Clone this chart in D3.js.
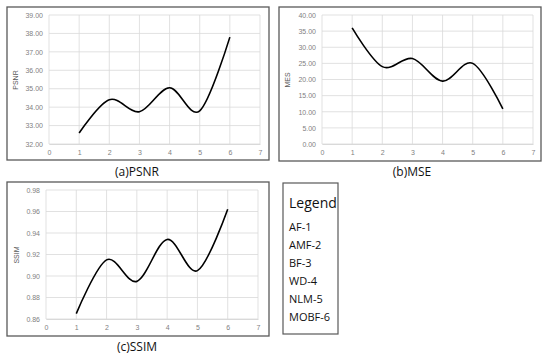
<!DOCTYPE html>
<html>
<head>
<meta charset="utf-8">
<script src="https://cdn.jsdelivr.net/npm/d3@7"></script>
<style>
  body { margin: 0; background: #fff; }
  svg { display: block; }
  .tick text { font-family: "Liberation Sans", sans-serif; font-size: 7px; fill: #7f7f7f; }
</style>
</head>
<body>
<div id="chart"></div>
<script>
// data
const methodIdx = [1, 2, 3, 4, 5, 6];
const psnrValues = [32.6, 34.4, 33.75, 35.05, 33.8, 37.8];
const mseValues = [36.0, 24.0, 26.5, 19.5, 25.0, 10.9];
const ssimValues = [0.865, 0.915, 0.895, 0.934, 0.905, 0.962];
const xTicks = [0, 1, 2, 3, 4, 5, 6, 7];
const psnrTicks = [32, 33, 34, 35, 36, 37, 38, 39];
const mseTicks = [0, 5, 10, 15, 20, 25, 30, 35, 40];
const ssimTicks = [0.86, 0.88, 0.90, 0.92, 0.94, 0.96, 0.98];
const legendItems = ["AF-1", "AMF-2", "BF-3", "WD-4", "NLM-5", "MOBF-6"];

const svg = d3.select("#chart").append("svg")
  .attr("width", 550)
  .attr("height", 354);

//------------------------------------------------------------- one panel
let drawPanel = (cfg) => {
  // frame
  svg.append("rect")
    .attr("x", cfg.box[0]).attr("y", cfg.box[1])
    .attr("width", cfg.box[2] - cfg.box[0]).attr("height", cfg.box[3] - cfg.box[1])
    .attr("fill", "none").attr("stroke", "#595959").attr("stroke-width", 1.3);

  let x = d3.scaleLinear().domain([0, 7]).range([cfg.plot[0], cfg.plot[2]]);
  let y = d3.scaleLinear().domain(d3.extent(cfg.ticks)).range([cfg.plot[3], cfg.plot[1]]);

  // grid
  svg.append("g").selectAll("line.v")
    .data(xTicks).enter().append("line")
    .attr("x1", d => x(d)).attr("x2", d => x(d))
    .attr("y1", cfg.plot[1]).attr("y2", cfg.plot[3])
    .attr("stroke", "#d9d9d9").attr("stroke-width", 0.8);
  svg.append("g").selectAll("line.h")
    .data(cfg.ticks).enter().append("line")
    .attr("x1", cfg.plot[0]).attr("x2", cfg.plot[2])
    .attr("y1", d => y(d)).attr("y2", d => y(d))
    .attr("stroke", "#d9d9d9").attr("stroke-width", 0.8);

  // axes (labels only)
  let yAxis = d3.axisLeft(y).tickValues(cfg.ticks).tickSize(0).tickPadding(6)
    .tickFormat(cfg.fmt);
  let xAxis = d3.axisBottom(x).tickValues(xTicks).tickSize(0).tickPadding(6)
    .tickFormat(d3.format("d"));
  svg.append("g")
    .attr("transform", "translate(" + cfg.plot[0] + ",0)")
    .call(yAxis)
    .call(g => g.select(".domain").remove());
  svg.append("g")
    .attr("transform", "translate(0," + cfg.plot[3] + ")")
    .call(xAxis)
    .call(g => g.select(".domain").attr("stroke", "#d9d9d9"));

  // smoothed line
  let line = d3.line()
    .x((d, i) => x(methodIdx[i]))
    .y(d => y(d))
    .curve(d3.curveCardinal.tension(0));
  svg.append("path")
    .datum(cfg.values)
    .attr("d", line)
    .attr("fill", "none")
    .attr("stroke", "#000")
    .attr("stroke-width", 1.6);

  // y title
  svg.append("text")
    .attr("transform", "translate(" + cfg.ylab[0] + "," + cfg.ylab[1] + ") rotate(-90)")
    .attr("text-anchor", "middle")
    .attr("font-family", "Liberation Sans, sans-serif")
    .attr("font-size", 7)
    .attr("fill", "#595959")
    .text(cfg.yTitle);

  // caption
  svg.append("text")
    .attr("x", cfg.cap[0]).attr("y", cfg.cap[1])
    .attr("text-anchor", "middle")
    .attr("font-family", "Open Sans, sans-serif")
    .attr("font-size", 12)
    .attr("fill", "#111")
    .text(cfg.caption);
};

drawPanel({
  box: [7, 7, 269, 160], plot: [49, 15, 260, 144],
  values: psnrValues, ticks: psnrTicks, fmt: d3.format(".2f"),
  yTitle: "PSNR", ylab: [18, 80], caption: "(a)PSNR", cap: [137, 176]
});
drawPanel({
  box: [279, 7, 541, 161], plot: [322, 15, 533, 144],
  values: mseValues, ticks: mseTicks, fmt: d3.format(".2f"),
  yTitle: "MES", ylab: [290, 80], caption: "(b)MSE", cap: [412, 176]
});
drawPanel({
  box: [7, 182, 269, 336], plot: [46, 190, 258, 319],
  values: ssimValues, ticks: ssimTicks, fmt: d3.format(".2f"),
  yTitle: "SSIM", ylab: [19, 255], caption: "(c)SSIM", cap: [137, 351]
});

//------------------------------------------------------------- legend box
svg.append("rect")
  .attr("x", 283).attr("y", 183)
  .attr("width", 55).attr("height", 151)
  .attr("fill", "none").attr("stroke", "#595959").attr("stroke-width", 1.2);

svg.append("text")
  .attr("x", 289).attr("y", 208)
  .attr("font-family", "Open Sans, sans-serif")
  .attr("font-size", 14)
  .attr("fill", "#111")
  .text("Legend");

svg.append("g").selectAll("text")
  .data(legendItems).enter().append("text")
  .attr("x", 289)
  .attr("y", (d, i) => 231 + i * 18)
  .attr("font-family", "Open Sans, sans-serif")
  .attr("font-size", 11)
  .attr("fill", "#111")
  .text(d => d);
</script>
</body>
</html>
